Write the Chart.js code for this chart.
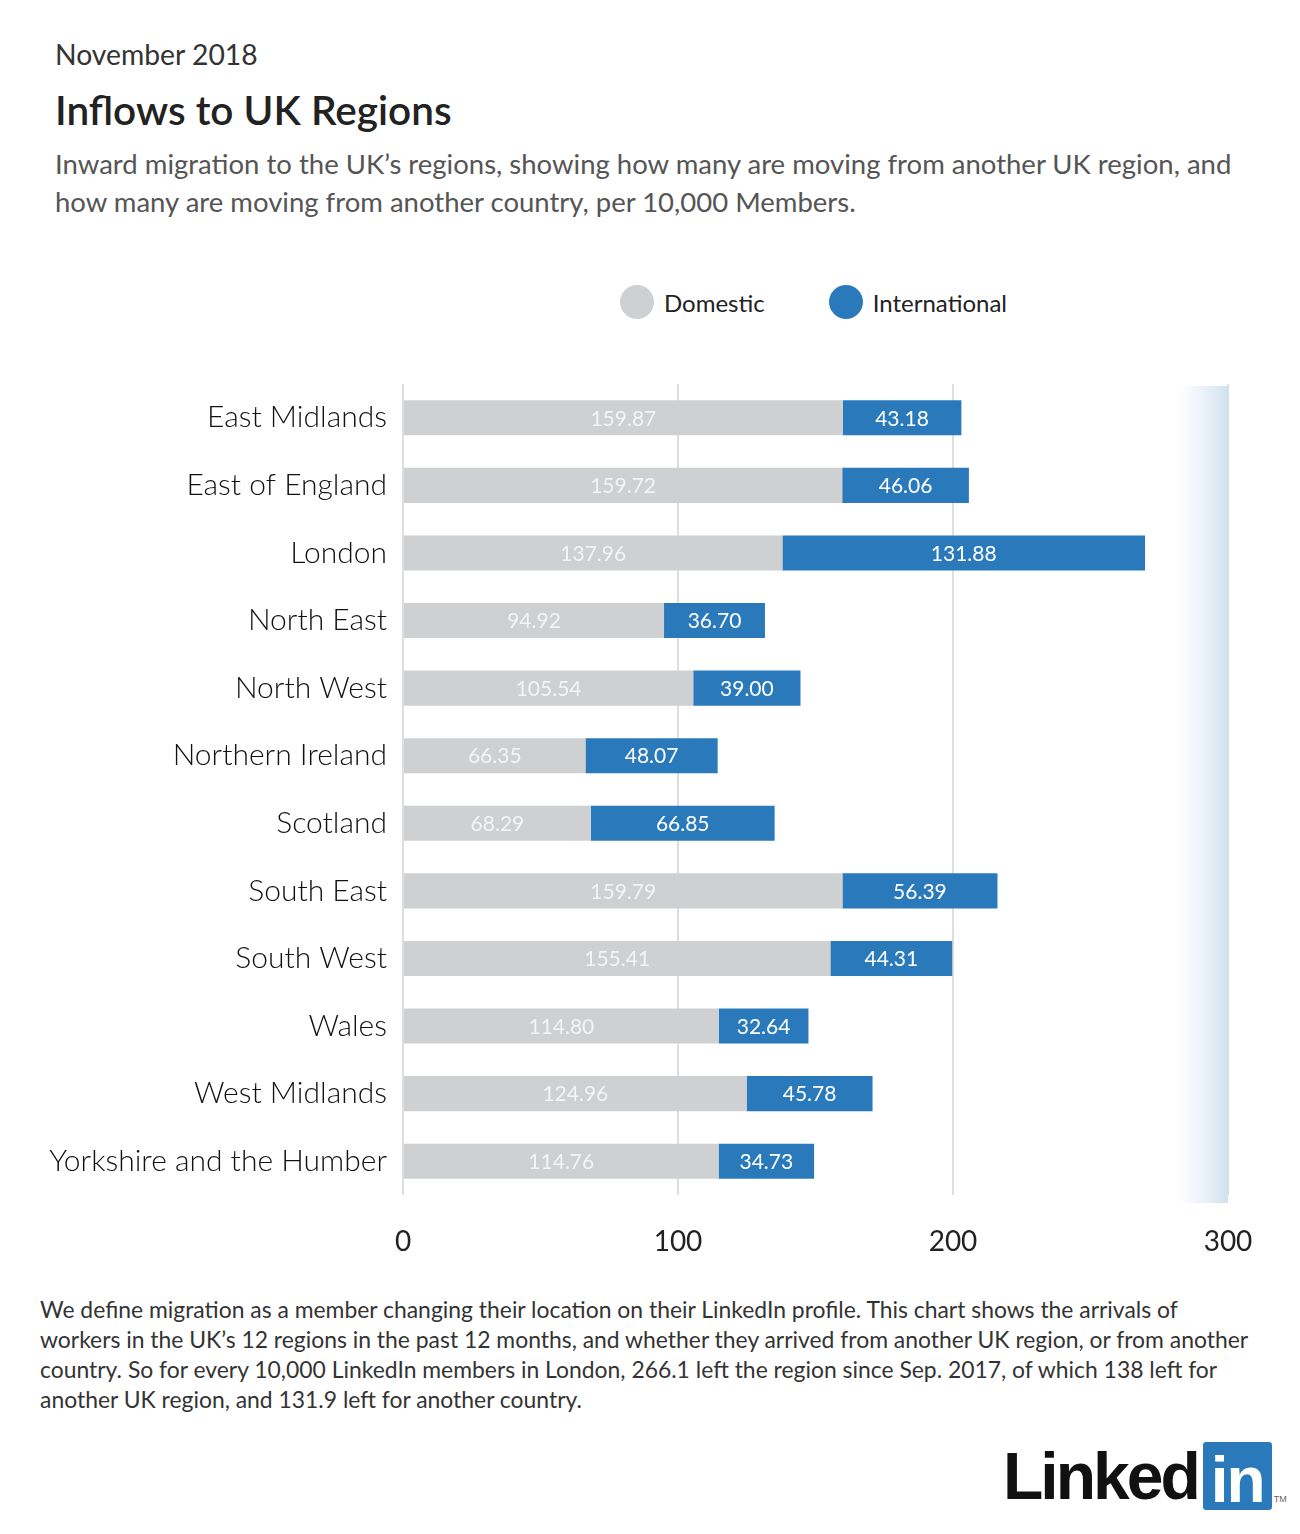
<!DOCTYPE html>
<html>
<head>
<meta charset="utf-8">
<script src="https://cdn.jsdelivr.net/npm/chart.js@4"></script>
<style>
  body { margin: 0; background: #fff; font-family: Lato, "Open Sans", sans-serif; color: #222; }
  #page { position: relative; width: 1300px; height: 1534px; }
  .abs { position: absolute; }
  #date { left: 55px; top: 37px; font-size: 28.3px; color: #333; }
  #title { left: 55px; top: 85px; font-size: 40.5px; font-weight: 600; color: #222; }
  #sub { left: 55px; top: 145px; width: 1210px; font-size: 27.5px; line-height: 38px; color: #555; }
  #legend { top: 285px; left: 620px; display: flex; align-items: center; font-size: 24px; color: #222; }
  #legend .dot { width: 34px; height: 34px; border-radius: 50%; margin-right: 10px; }
  #legend .item { display: flex; align-items: center; margin-right: 64px; }
  #wrap { left: 0; top: 358px; width: 1300px; height: 912px; }
  #note { left: 40px; top: 1294px; white-space: nowrap; font-size: 22.9px; line-height: 30px; color: #333; }
  #logo { left: 1003px; top: 1442px; display: flex; align-items: flex-start; font-family: Arial, "Liberation Sans", sans-serif; }
  #logo .lk { font-size: 66px; font-weight: bold; color: #111; letter-spacing: -3px; line-height: 68px; }
  #logo .in { margin-left: 5px; width: 69px; height: 68px; background: #2a7abb; color: #fff; font-size: 64px; font-weight: bold; line-height: 76px; text-align: center; border-radius: 3px; letter-spacing: -2px; }
  #logo .tm { font-size: 9px; color: #666; margin-top: 52px; margin-left: 2px; }
</style>
</head>
<body>
<div id="page">
  <div class="abs" id="date">November 2018</div>
  <div class="abs" id="title">Inflows to UK Regions</div>
  <div class="abs" id="sub">Inward migration to the UK’s regions, showing how many are moving from another UK region, and how many are moving from another country, per 10,000 Members.</div>
  <div class="abs" id="legend">
    <div class="item"><div class="dot" style="background:#cfd0d2"></div>Domestic</div>
    <div class="item"><div class="dot" style="background:#2a7abb"></div>International</div>
  </div>
  <div class="abs" id="wrap"><canvas id="chart"></canvas></div>
  <div class="abs" id="note">We define migration as a member changing their location on their LinkedIn profile. This chart shows the arrivals of<br>workers in the UK’s 12 regions in the past 12 months, and whether they arrived from another UK region, or from another<br>country. So for every 10,000 LinkedIn members in London, 266.1 left the region since Sep. 2017, of which 138 left for<br>another UK region, and 131.9 left for another country.</div>
  <div class="abs" id="logo"><span class="lk">Linked</span><span class="in">in</span><span class="tm">TM</span></div>
</div>
<script>
const regions = ['East Midlands', 'East of England', 'London', 'North East', 'North West', 'Northern Ireland',
  'Scotland', 'South East', 'South West', 'Wales', 'West Midlands', 'Yorkshire and the Humber'];
const domestic = [159.87, 159.72, 137.96, 94.92, 105.54, 66.35, 68.29, 159.79, 155.41, 114.80, 124.96, 114.76];
const international = [43.18, 46.06, 131.88, 36.70, 39.00, 48.07, 66.85, 56.39, 44.31, 32.64, 45.78, 34.73];
const xTicks = [0, 100, 200, 300];

// light blue fade along the right edge of the plot
const shade = {
  id: 'shade',
  beforeDatasetsDraw(chart) {
    const { ctx, chartArea } = chart;
    const x1 = chart.scales.x.getPixelForValue(300);
    const x0 = x1 - 52;
    const g = ctx.createLinearGradient(x0, 0, x1, 0);
    g.addColorStop(0, 'rgba(220,232,244,0)');
    g.addColorStop(1, 'rgba(205,222,238,0.9)');
    ctx.save();
    ctx.fillStyle = g;
    ctx.fillRect(x0, chartArea.top + 2, x1 - x0, chartArea.bottom - chartArea.top + 6);
    ctx.restore();
  }
};

// value labels centred in each bar segment
const barLabels = {
  id: 'barLabels',
  afterDatasetsDraw(chart) {
    const ctx = chart.ctx;
    ctx.save();
    ctx.font = '21px Lato, "Open Sans", sans-serif';
    ctx.textAlign = 'center';
    ctx.textBaseline = 'middle';
    chart.data.datasets.forEach((ds, i) => {
      chart.getDatasetMeta(i).data.forEach((bar, j) => {
        ctx.fillStyle = i === 0 ? '#f4f4f5' : '#ffffff';
        ctx.fillText(ds.data[j].toFixed(2), (bar.x + bar.base) / 2, bar.y + 1);
      });
    });
    ctx.restore();
  }
};

new Chart(document.getElementById('chart'), {
  type: 'bar',
  data: {
    labels: regions,
    datasets: [
      { label: 'Domestic', data: domestic, backgroundColor: '#cfd0d2' },
      { label: 'International', data: international, backgroundColor: '#2a7abb' }
    ]
  },
  options: {
    indexAxis: 'y',
    responsive: true,
    maintainAspectRatio: false,
    animation: false,
    layout: { padding: { top: 15, right: 72, left: 0, bottom: 0 } },
    datasets: { bar: { barPercentage: 0.52, categoryPercentage: 1.0, borderWidth: 0 } },
    plugins: { legend: { display: false }, tooltip: { enabled: false } },
    scales: {
      x: {
        stacked: true,
        min: 0, max: 300,
        afterBuildTicks: s => { s.ticks = xTicks.map(v => ({ value: v })); },
        afterFit: s => { s.height = 75; },
        grid: { color: '#dedede', lineWidth: 2, drawTicks: false },
        border: { display: false },
        ticks: { color: '#222', font: { family: 'Lato', size: 28 }, padding: 30 }
      },
      y: {
        stacked: true,
        afterFit: s => { s.width = 403; },
        grid: { display: false },
        border: { display: false },
        ticks: { color: '#111', font: { family: 'Lato', size: 30, weight: 300 }, padding: 8 }
      }
    }
  },
  plugins: [shade, barLabels]
});
</script>
</body>
</html>
